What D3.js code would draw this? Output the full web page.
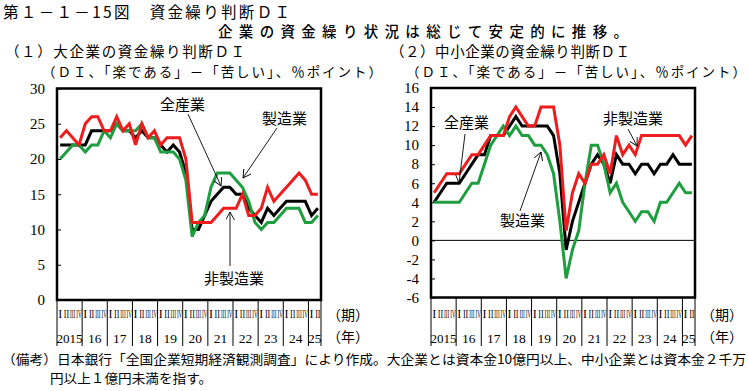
<!DOCTYPE html>
<html><head><meta charset="utf-8">
<script src="https://cdn.jsdelivr.net/npm/d3@7"></script>
<style>
body{margin:0;background:#fff;}
svg{display:block;}
</style></head>
<body>
<svg id="chart" width="748" height="391"></svg>
<script>
// ---------- data ----------
const years = ["2015","16","17","18","19","20","21","22","23","24","25"];
const quarterLabels = ["I","II","III","IV"];
const lastYearQuarters = 2; // 2025 I-II

// (1) 大企業
const largeAll    = [22,22,22,22,22,24,24,24,24,25,24,24,23,24,23,23,22,21,22,21,18,10,10,12,14,15,16,16,15,15,13,12,11,13,12,13,14,14,14,14,12,13];
const largeMfg    = [20,21,22,22,21,22,22,24,23,25,24,24,24,25,23,23,21,21,21,20,17,9,11,12,16,18,18,18,17,16,14,11,10,11,11,12,13,13,13,11,11,12];
const largeNonMfg = [23,24,23,22,25,26,26,24,24,26,24,25,22,25,23,24,22,23,23,23,20,11,11,11,11,12,13,13,13,15,12,12,13,16,14,15,16,17,18,17,15,15];
// (2) 中小企業
const smallAll    = [4,5,6,6,6,7,8,9,9,11,11,11,12,13,12,12,12,12,12,11,7,-1,2,4,6,8,9,8,6,9,8,8,7,8,8,7,8,8,9,8,8,8];
const smallMfg    = [4,4,4,4,4,5,6,6,8,10,11,12,11,12,11,11,10,10,9,7,2,-4,-1,1,6,10,10,8,5,6,4,3,2,3,3,2,4,4,5,6,5,5];
const smallNonMfg = [5,6,7,7,7,8,9,9,10,11,11,11,13,14,13,12,12,14,14,14,10,1,5,7,6,8,8,9,7,11,9,10,9,11,11,11,11,11,11,11,10,11];

const leftTicks  = [0,5,10,15,20,25,30];
const rightTicks = [-6,-4,-2,0,2,4,6,8,10,12,14,16];

// ---------- categories ----------
const cats = [];
years.forEach((y,yi)=>{
  const n = yi===years.length-1 ? lastYearQuarters : 4;
  for(let q=0;q<n;q++) cats.push({key:y+"-"+q, year:y, q:quarterLabels[q]});
});

const COL = {all:"#000000", mfg:"#1e9e3e", non:"#ee1c1c"};
const svg = d3.select("#chart");
svg.append("rect").attr("width",748).attr("height",391).attr("fill","#fff");

const defs = svg.append("defs");
defs.append("marker").attr("id","arr").attr("viewBox","0 0 10 10")
  .attr("refX",9).attr("refY",5).attr("markerWidth",9).attr("markerHeight",9)
  .attr("markerUnits","userSpaceOnUse").attr("orient","auto")
  .append("path").attr("d","M0,0 L9,5 L0,10").attr("fill","none").attr("stroke","#000").attr("stroke-width",1);

const JP = "'Noto Sans CJK JP','Noto Sans',sans-serif";
const SERIF = "'Liberation Serif','DejaVu Serif',serif";

// ---------- titles ----------
svg.append("text").attr("x",3).attr("y",18).attr("font-family",JP).attr("font-size",15.5)
  .attr("textLength",287).attr("lengthAdjust","spacing").text("第１－１－15図　資金繰り判断ＤＩ");
svg.append("text").attr("x",218).attr("y",37).attr("font-family",JP).attr("font-size",14.5).attr("font-weight","500")
  .attr("textLength",410).attr("lengthAdjust","spacing").text("企業の資金繰り状況は総じて安定的に推移。");

function panel(opt){
  const {x0,x1,y0,y1,dom,ticks,series,title,titleX,unitX,zero} = opt;
  const x = d3.scaleBand().domain(cats.map(d=>d.key)).range([x0,x1]).paddingInner(0).paddingOuter(0);
  const y = d3.scaleLinear().domain(dom).range([y1,y0]);
  const g = svg.append("g");

  g.append("text").attr("x",titleX).attr("y",57).attr("font-family",JP).attr("font-size",14.5)
    .attr("textLength",240).attr("lengthAdjust","spacing").text(title);
  g.append("text").attr("x",unitX).attr("y",77).attr("font-family",JP).attr("font-size",13.5)
    .attr("textLength",340).attr("lengthAdjust","spacing").text("（ＤＩ、「楽である」－「苦しい」、％ポイント）");

  // y axis
  const ya = d3.axisLeft(y).tickValues(ticks).tickSize(-4).tickPadding(12).tickFormat(d=>d<0?"-"+Math.abs(d):d);
  const ag = g.append("g").attr("transform",`translate(${x0},0)`).call(ya);
  ag.select(".domain").remove();
  ag.selectAll("line").attr("stroke","#000").attr("stroke-width",1);
  ag.selectAll("text").attr("font-family",SERIF).attr("font-size",15).attr("fill","#000");

  if(zero){
    g.append("line").attr("x1",x0).attr("x2",x1).attr("y1",y(0)).attr("y2",y(0)).attr("stroke","#000").attr("stroke-width",1);
  }

  // lines
  const line = d3.line().x((d,i)=>x(cats[i].key)+x.bandwidth()/2).y(d=>y(d)).curve(d3.curveLinear);
  series.forEach(s=>{
    g.append("path").datum(s.values).attr("d",line).attr("fill","none")
      .attr("stroke",s.color).attr("stroke-width",3).attr("stroke-linejoin","miter").attr("stroke-miterlimit",3);
  });

  // frame
  g.append("rect").attr("x",x0).attr("y",y0).attr("width",x1-x0).attr("height",y1-y0)
    .attr("fill","none").attr("stroke","#000").attr("stroke-width",2.5);

  // quarter labels: one per quarter, squeezed horizontally into its band
  const bw = x.bandwidth();
  g.selectAll(".ql").data(cats).join("text").attr("class","ql")
    .attr("font-family",SERIF).attr("font-size",12).attr("fill","#000").attr("text-anchor","middle")
    .text(d=>d.q)
    .each(function(d){
      const w = this.getComputedTextLength() || 1;
      const sx = Math.min(1, (bw-0.9)/w);
      d3.select(this).attr("transform",`translate(${x(d.key)+bw/2},318) scale(${sx},1)`);
    });

  // year bands
  const bounds = [];
  years.forEach(yr=>{
    const ks = cats.filter(c=>c.year===yr);
    bounds.push({yr, a:x(ks[0].key), b:x(ks[ks.length-1].key)+bw});
  });
  const seps = [x0].concat(bounds.map(b=>b.b));
  g.selectAll(".sep").data(seps).join("line").attr("class","sep")
    .attr("x1",d=>d).attr("x2",d=>d).attr("y1",y1).attr("y2",346).attr("stroke","#000").attr("stroke-width",1);
  g.selectAll(".yl").data(bounds).join("text").attr("class","yl")
    .attr("font-family",SERIF).attr("font-size",13.5).attr("text-anchor","middle")
    .text(d=>d.yr)
    .each(function(d){
      const w = this.getComputedTextLength() || 1;
      const sx = Math.min(1, (d.b-d.a+1)/w);
      d3.select(this).attr("transform",`translate(${(d.a+d.b)/2},343) scale(${sx},1)`);
    });
  g.append("text").attr("x",x1+6).attr("y",320).attr("font-family",JP).attr("font-size",14).text("（期）");
  g.append("text").attr("x",x1+6).attr("y",342).attr("font-family",JP).attr("font-size",14).text("（年）");
  return {x,y,g};
}

function annot(g,label,tx,ty,lx1,ly1,lx2,ly2){
  g.append("text").attr("x",tx).attr("y",ty).attr("font-family",JP).attr("font-size",15).text(label);
  g.append("line").attr("x1",lx1).attr("y1",ly1).attr("x2",lx2).attr("y2",ly2)
    .attr("stroke","#000").attr("stroke-width",0.9).attr("marker-end","url(#arr)");
}

const L = panel({x0:57,x1:321,y0:88.5,y1:300,dom:[0,30],ticks:leftTicks,
  series:[{values:largeAll,color:COL.all},{values:largeMfg,color:COL.mfg},{values:largeNonMfg,color:COL.non}],
  title:"（１）大企業の資金繰り判断ＤＩ",titleX:5,unitX:42,zero:false});
const R = panel({x0:431,x1:695,y0:88,y1:297.5,dom:[-6,16],ticks:rightTicks,
  series:[{values:smallAll,color:COL.all},{values:smallMfg,color:COL.mfg},{values:smallNonMfg,color:COL.non}],
  title:"（２）中小企業の資金繰り判断ＤＩ",titleX:390,unitX:406,zero:true});

annot(L.g,"全産業",160,110,188,114,221,186);
annot(L.g,"製造業",262,124,277,128,243,178);
annot(L.g,"非製造業",204,284,230,266,230,212);
annot(R.g,"全産業",444,128,465,134,459,183);
annot(R.g,"製造業",500,226,520,211,541,152);
annot(R.g,"非製造業",603,124,628,129,637,146);

// note
svg.append("text").attr("x",2).attr("y",364).attr("font-family",JP).attr("font-size",13)
  .attr("textLength",744).attr("lengthAdjust","spacingAndGlyphs")
  .text("（備考）日本銀行「全国企業短期経済観測調査」により作成。大企業とは資本金10億円以上、中小企業とは資本金２千万");
svg.append("text").attr("x",50).attr("y",383).attr("font-family",JP).attr("font-size",13)
  .attr("textLength",162).attr("lengthAdjust","spacingAndGlyphs")
  .text("円以上１億円未満を指す。");
</script>
</body></html>
